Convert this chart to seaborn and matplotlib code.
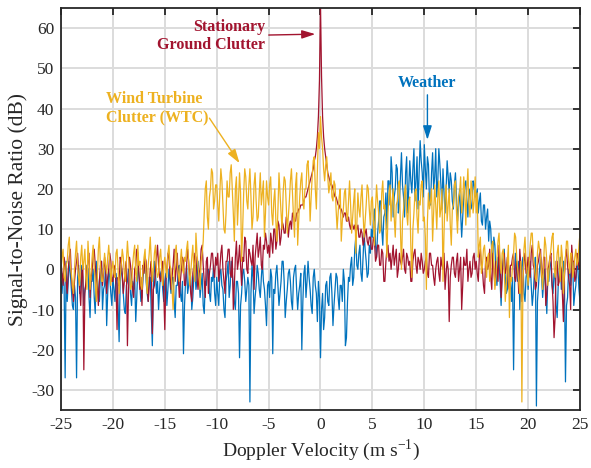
import numpy as np
import pandas as pd
import matplotlib
matplotlib.use("Agg")
import matplotlib.pyplot as plt
import seaborn as sns

# Doppler velocity bins (m/s), 0.1 m/s spacing from -25 to 25
velocity = np.round(np.arange(-250, 251) * 0.1, 1)

# Stationary ground clutter spectrum (dB), rows of 5 m/s
clutter_snr = [
    2, -1, -4, 3, 1, -3, -6, 0, 3, 5, -2, -5, -8, -3, 0, 2, 4, -1, -5, -9, -1, 1, -25, -6, -3, 0, 2, 4, -7, -2, 0, 3, 5, 1, -2, -4, -9, -3, 1, 2, -4, -1, 3, 0, -6, -2, 0, 4, 2, -3,
    -3, 0, 1, -4, -15, -2, -4, 3, 2, -1, -6, -3, 0, 2, -19, -6, 3, 1, -2, -5, -7, 0, 1, 5, 4, -1, -5, -2, -9, 1, -1, 3, 2, -3, -8, -4, 0, 2, -16, -5, -4, 0, 3, 6, 1, -2, -3, 0, 2, -6,
    -15, -3, 0, 4, 3, -1, -5, -2, 1, 5, -3, 0, 4, -2, -7, -3, 0, 3, 2, -4, -4, 1, 5, 2, -2, -6, -8, -1, 1, 4, 3, -2, -5, -1, 0, 5, 6, 1, -3, -7, 2, 3, -6, -1, 1, 4, 4, 0, -2, 3,
    1, 4, -3, 0, 4, 6, 0, -3, -6, 2, 2, 5, 5, -1, -2, 3, -10, -4, 3, 7, 0, 2, 6, 1, -4, 3, 2, 8, 7, 0, -1, 5, 4, 2, 1, 6, -5, 3, 6, 9, 3, 5, 8, 1, 0, 6, 5, 9, 7, 4,
    6, 3, 9, 7, 4, 10, 10, 5, 7, 12, 11, 6, 8, 12, 11, 9, 9, 13, 12, 8, 11, 12, 10, 14, 13, 12, 12, 14, 14, 15, 15, 16, 16, 16, 17, 18, 18, 19, 20, 21, 22, 23, 24, 25, 27, 28, 30, 33, 38, 47,
    66, 48, 38, 33, 30, 28, 26, 24, 23, 22, 21, 21, 20, 19, 18, 18, 17, 16, 16, 15, 15, 14, 13, 14, 14, 12, 12, 13, 11, 10, 12, 11, 10, 11, 9, 10, 11, 8, 8, 10, 9, 6, 7, 9, 10, 7, 6, 8, 8, 5,
    5, 8, 7, 2, 3, 6, 6, 1, 1, 5, 4, -3, -3, 2, 5, 6, 2, 4, 0, 3, 6, 1, 3, 5, -2, 0, 4, 2, 1, 3, 5, 0, -1, 4, 3, 1, 2, -3, -3, 2, 4, 5, 1, -1, 3, 2, 0, 4, 2, -1,
    0, 2, 3, -1, -2, 4, 4, 1, 1, -2, -4, 0, 2, 3, -1, -3, 3, 1, 0, 4, -5, -1, 2, 0, -13, -2, 1, 3, 3, -1, -2, 2, 4, -3, 0, 3, -10, -4, 3, 1, 1, 5, -3, 0, 2, -2, -1, 3, 4, 0,
    2, -1, -3, 3, 5, 1, 0, -4, -6, 2, 3, 0, 1, 5, -2, -5, 4, 0, -4, 2, 0, -3, 6, 1, -7, -2, 2, 4, -1, 0, 3, -4, -5, 1, 1, 3, 4, -2, -3, 2, 0, -6, 5, 1, -8, -3, 2, 4, -1, 0,
    3, 0, -2, 4, 6, 1, 0, -5, -4, 1, 2, 4, 5, -2, -1, 3, 3, -9, -6, 0, 1, 3, 4, -3, -8, -17, -12, 2, 2, -4, -3, 1, 0, -6, -13, -2, 3, 5, 1, -2, -4, -10, 6, 2, 2, -3, -2, 4, 3, 0,
    1,
]

# Weather echo spectrum (dB), rows of 5 m/s
weather_snr = [
    -3, -6, -1, -4, -27, 2, -8, -3, 2, -1, -5, -9, -10, -4, -7, -27, -2, 1, -6, -3, 1, -2, -9, -5, -4, 1, 0, -7, -12, -3, -3, 0, -7, -11, 2, -2, -5, -8, -1, 2, -10, -5, -4, 1, -14, -6, 0, -2, -6, -9,
    -2, -5, -8, -1, -4, -9, -18, -3, 1, -2, -6, -10, -11, -4, -3, 0, 0, -6, -9, -3, -5, -2, -13, -7, 1, -1, -4, -8, -7, -2, 0, 2, -3, -6, -8, -2, -2, -11, -19, -5, 2, -1, -6, -3, -10, -5, -1, 0, -5, -8,
    -3, -1, -9, -5, 0, -3, -6, -2, -2, -8, -12, -4, -4, 0, 1, -6, -8, -3, -21, -9, -3, 1, -6, -4, 0, -2, -10, -7, -2, 1, -5, -3, 2, -1, -7, -4, -1, -9, -11, -3, -4, 0, 0, -6, -8, -2, -3, 1, -6, -9,
    -2, -6, -9, -1, 0, -4, -5, -10, -12, -3, -1, 2, -7, -4, 2, -1, -4, -8, -10, -3, -3, -6, -22, -9, -6, -1, 0, -3, -8, -5, -2, -4, -33, -6, 1, -2, -11, -7, -4, 1, -1, -5, -7, -2, 2, -3, -5, -9, -14, -4,
    -3, -7, 0, -2, -21, -5, -6, -1, 1, -4, -9, -6, -3, 2, 2, -3, -12, -8, -5, -1, 0, -3, -8, -10, -2, 0, 1, -5, -10, -6, -4, -1, -20, -8, -1, 1, -7, -3, 2, -2, -5, -9, -11, -2, 0, -4, -6, -13, -3, -7,
    -22, -10, -6, -15, -12, -4, -3, -8, -9, -2, -1, -6, -14, -9, -5, -1, -2, -7, -10, -4, -4, -8, 0, -3, -19, -17, -8, -2, -3, 1, 3, -4, -2, 5, 8, 1, 0, 4, 6, -1, -3, 3, 9, 5, 2, -2, -1, 6, 4, 10,
    8, 12, 15, 6, 3, 9, 12, 17, 17, 10, 6, 13, 14, 19, 10, 22, 22, 16, 28, 24, 13, 18, 20, 26, 25, 14, 16, 23, 29, 21, 18, 13, 24, 28, 14, 20, 27, 22, 19, 25, 30, 17, 22, 28, 15, 24, 32, 27, 24, 18,
    31, 25, 20, 28, 26, 17, 16, 24, 29, 20, 23, 30, 18, 22, 30, 26, 21, 15, 25, 19, 14, 20, 27, 23, 19, 24, 22, 17, 15, 21, 24, 18, 12, 16, 20, 14, 8, 13, 18, 21, 22, 17, 13, 20, 19, 15, 16, 22, 21, 18,
    18, 20, 14, 17, 19, 12, 11, 16, 16, 10, 13, 15, 7, 12, 10, 4, 2, 8, 6, -1, -4, 3, 1, -3, -9, -1, 3, 5, -2, -6, -5, 1, 0, -3, -8, -2, -25, -4, 4, -1, -3, 2, -10, -4, 1, 3, -6, -8, -2, 0,
    -5, -1, 2, -4, -9, -6, -1, 3, -34, -8, -4, 0, 3, -2, -7, -3, 0, -5, -11, -2, -3, 2, 1, -4, -6, -1, -2, -9, -12, -4, 0, 3, -5, -1, 2, -3, -28, -9, -7, 0, -1, -4, 3, 1, -9, -6, -4, 2, 0, -5,
    -8,
]

# Wind turbine clutter spectrum (dB), rows of 5 m/s
wtc_snr = [
    0, 3, 5, -2, -3, 1, 2, 6, 8, 1, -1, -4, -6, 0, 4, 7, 1, -2, -4, 3, 6, 0, 2, 5, -2, -5, 7, 2, -5, -1, 3, 6, 0, -3, -8, -2, 5, 8, 1, -3, -3, 0, 4, 1, -1, 3, 6, 2, -4, 0,
    2, -1, -2, 4, 5, 0, -6, -2, 1, 5, 3, -1, -3, 2, 7, 3, 0, -5, -4, 1, 4, 6, -1, -3, 6, 1, 2, -4, -5, 0, 3, 5, -2, -6, 1, 4, 8, 2, -3, 0, 4, 6, 0, -2, -1, 3, 5, 0, -4, 1,
    3, 0, -2, 4, 6, 1, 0, -5, -10, -2, 4, 6, 1, -1, -3, 2, 5, 0, -1, 3, 2, 5, 7, 1, -4, -1, 3, 6, 0, -3, 9, 4, 1, -2, -5, 2, 4, 7, 14, 20, 22, 13, 10, 18, 20, 25, 24, 15, 17, 21,
    21, 16, 12, 19, 25, 22, 16, 10, 9, 14, 22, 18, 18, 24, 26, 20, 14, 7, 20, 23, 11, 17, 24, 19, 2, 10, 19, 25, 23, 17, 15, 21, 25, 18, 10, 13, 21, 24, 17, 12, 13, 19, 24, 16, 19, 22, 8, 14, 22, 18,
    16, 21, 23, 14, 11, 17, 20, 12, 7, 15, 24, 19, 14, 10, 19, 23, 22, 16, 9, 13, 17, 22, 25, 19, 13, 8, 21, 24, 6, 12, 18, 22, 24, 17, 15, 20, 20, 26, 27, 21, 12, 18, 23, 27, 28, 20, 15, 25, 34, 30,
    38, 33, 30, 25, 22, 26, 28, 23, 19, 21, 24, 18, 17, 22, 21, 15, 10, 14, 18, 20, 7, 12, 15, 19, 20, 14, 12, 17, 22, 16, 9, 13, 17, 20, 4, 11, 19, 15, 13, 18, 21, 14, 8, 12, 16, 21, 20, 15, 11, 17,
    18, 12, 6, 15, 21, 17, 14, 9, 10, 19, 22, 15, 16, 11, 3, 14, 19, 21, 12, 17, 20, 13, 8, 16, 17, 21, 22, 10, 0, 12, 15, 19, 21, 14, 11, 17, 18, 6, -2, 10, 14, 19, 20, 13, 9, 17, 16, 21, 22, 12,
    13, 8, -5, 12, 19, 15, 17, 20, 7, 14, 21, 16, 10, 18, 22, 13, 15, 20, -3, 9, 18, 21, 12, 16, 20, 11, 6, 15, 16, 21, 22, 14, 9, 18, 19, 23, 14, 17, 23, 19, 11, 20, 25, 16, 13, 22, 20, 14, 17, 23,
    14, 19, 3, 6, 8, -1, 1, 5, 6, 2, -2, 3, 4, -3, 0, 6, 7, 1, -5, -2, 3, 7, 9, 2, -1, 4, 5, 0, -8, -4, 2, 6, -12, -2, -3, 1, 4, 9, 8, 3, 0, -3, -6, 2, -33, -4, 5, 8, 2, -1,
    -4, 2, 6, 9, 9, 3, 1, -2, -3, 4, 7, 5, 3, -1, -5, 2, 8, 6, 2, -4, -1, 3, 5, 8, 9, 1, -2, 0, 4, 6, 0, -3, 6, 3, -6, -1, 3, 7, 7, 2, -1, 4, 4, -2, 0, 3, 5, 1, 2, 6,
    9,
]

sources = ["Weather", "Stationary Ground Clutter", "Wind Turbine Clutter (WTC)"]
colors = {"Weather": "#0072BD",
          "Stationary Ground Clutter": "#A2142F",
          "Wind Turbine Clutter (WTC)": "#EDB120"}

x_ticks = list(range(-25, 26, 5))
y_ticks = list(range(-30, 61, 10))

df = pd.concat([
    pd.DataFrame({"velocity": velocity, "snr": weather_snr, "source": sources[0]}),
    pd.DataFrame({"velocity": velocity, "snr": clutter_snr, "source": sources[1]}),
    pd.DataFrame({"velocity": velocity, "snr": wtc_snr, "source": sources[2]}),
], ignore_index=True)

sns.set_theme(style="whitegrid")
plt.rcParams["font.family"] = ["Liberation Serif", "DejaVu Serif"]
plt.rcParams["mathtext.fontset"] = "custom"
plt.rcParams["mathtext.rm"] = "Liberation Serif"
plt.rcParams["axes.unicode_minus"] = False

fig = plt.figure(figsize=(5.91, 4.68), dpi=100)
ax = fig.add_axes([0.1032, 0.1239, 0.8782, 0.859])

sns.lineplot(data=df, x="velocity", y="snr", hue="source", hue_order=sources,
             palette=colors, estimator=None, sort=False, lw=0.9, legend=False, ax=ax)

ax.set_xlim(-25, 25)
ax.set_ylim(-35, 65)
ax.set_xticks(x_ticks)
ax.set_yticks(y_ticks)
ax.set_xticklabels([str(t) for t in x_ticks])
ax.set_yticklabels([str(t) for t in y_ticks])
ax.grid(True, color="#dcdcdc", lw=1.4)
ax.set_axisbelow(True)
for s in ax.spines.values():
    s.set_visible(True)
    s.set_color("#262626")
    s.set_linewidth(1.3)
ax.tick_params(direction="in", length=5, width=1.3, color="#262626",
               top=True, right=True, labelsize=12.5, labelcolor="#262626", pad=5)
ax.set_xlabel(r"Doppler Velocity (m s$^{\mathregular{-1}}$)", fontsize=14, color="#262626", labelpad=3)
ax.set_ylabel("Signal-to-Noise Ratio (dB)", fontsize=15.5, color="#262626", labelpad=2)

# annotations
head = "-|>,head_length=0.7,head_width=0.22"
ax.annotate("Stationary\nGround Clutter", xy=(-0.5, 58.5), xytext=(-5.3, 58.0),
            ha="right", va="center", multialignment="right",
            fontsize=11.5, fontweight="bold", color="#A2142F", linespacing=1.2,
            arrowprops=dict(arrowstyle=head, color="#A2142F", lw=1.0, shrinkA=0, shrinkB=0))
ax.annotate("Wind Turbine\nClutter (WTC)", xy=(-7.8, 26.4), xytext=(-20.7, 40.1),
            ha="left", va="center", multialignment="left",
            fontsize=11.5, fontweight="bold", color="#EDB120", linespacing=1.2)
ax.annotate("", xy=(-7.8, 26.4), xytext=(-10.7, 37.6),
            arrowprops=dict(arrowstyle=head, color="#EDB120", lw=1.0, shrinkA=0, shrinkB=0))
ax.annotate("Weather", xy=(10.3, 32.2), xytext=(10.3, 46.3),
            ha="center", va="center",
            fontsize=11.5, fontweight="bold", color="#0072BD")
ax.annotate("", xy=(10.3, 32.2), xytext=(10.3, 43.4),
            arrowprops=dict(arrowstyle=head, color="#0072BD", lw=1.0, shrinkA=0, shrinkB=0))

fig.savefig("out.png", dpi=100)
